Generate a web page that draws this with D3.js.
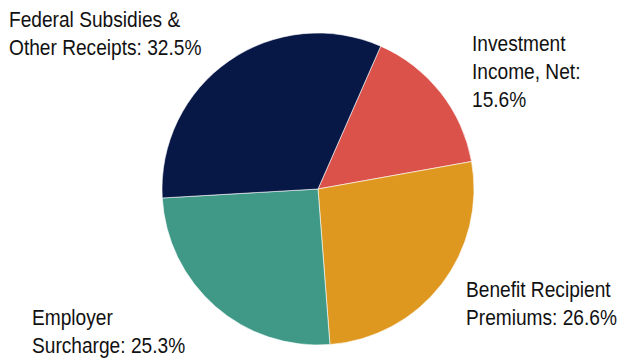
<!DOCTYPE html>
<html>
<head>
<meta charset="utf-8">
<script src="https://cdn.jsdelivr.net/npm/d3@7"></script>
<style>
  html, body { margin: 0; padding: 0; background: #fff; }
  svg text { font-family: "Liberation Sans Narrow", "Arial Narrow", "Liberation Sans", Arial, sans-serif; fill: #111; }
</style>
</head>
<body>
<svg id="chart" width="621" height="360"></svg>
<script>
// Revenue sources, in drawing order (clockwise from the first slice)
const categories = ["Investment Income, Net", "Benefit Recipient Premiums", "Employer Surcharge", "Federal Subsidies & Other Receipts"];
const shares = [15.6, 26.6, 25.3, 32.5];
const colors = ["#DB524B", "#DE981F", "#3F9986", "#071847"];
// Label lines for each slice
const labelLines = [
  ["Investment", "Income, Net:", "15.6%"],
  ["Benefit Recipient", "Premiums: 26.6%"],
  ["Employer", "Surcharge: 25.3%"],
  ["Federal Subsidies &", "Other Receipts: 32.5%"]
];

const svg = d3.select("#chart");
const cx = 318, cy = 189, radius = 156;
const startDeg = 23.7;

const pie = d3.pie()
  .sort(null)
  .value(d => d)
  .startAngle(startDeg * Math.PI / 180)
  .endAngle((startDeg + 360) * Math.PI / 180);

const arc = d3.arc().innerRadius(0).outerRadius(radius);

const g = svg.append("g").attr("transform", `translate(${cx},${cy})`);

g.selectAll("path")
  .data(pie(shares))
  .join("path")
  .attr("d", arc)
  .attr("fill", (d, i) => colors[i])
  .attr("stroke", "#ffffff")
  .attr("stroke-width", 0.6);

// Label anchor positions (left x, first baseline)
const labelPos = [
  { x: 472, y: 51 },
  { x: 466, y: 297 },
  { x: 32, y: 325 },
  { x: 9, y: 27 }
];
const lineHeight = 28;
// horizontal squeeze gives the narrow face look
const squeeze = 0.87;

const labels = svg.selectAll("g.lbl")
  .data(labelLines)
  .join("g")
  .attr("class", "lbl")
  .attr("transform", (d, i) => `translate(${labelPos[i].x},${labelPos[i].y}) scale(${squeeze},1)`);

labels.append("text")
  .style("font-size", "22px")
  .each(function (lines) {
    d3.select(this).selectAll("tspan")
      .data(lines)
      .join("tspan")
      .attr("x", 0)
      .attr("dy", (l, j) => j === 0 ? 0 : lineHeight)
      .text(l => l);
  });
</script>
</body>
</html>
